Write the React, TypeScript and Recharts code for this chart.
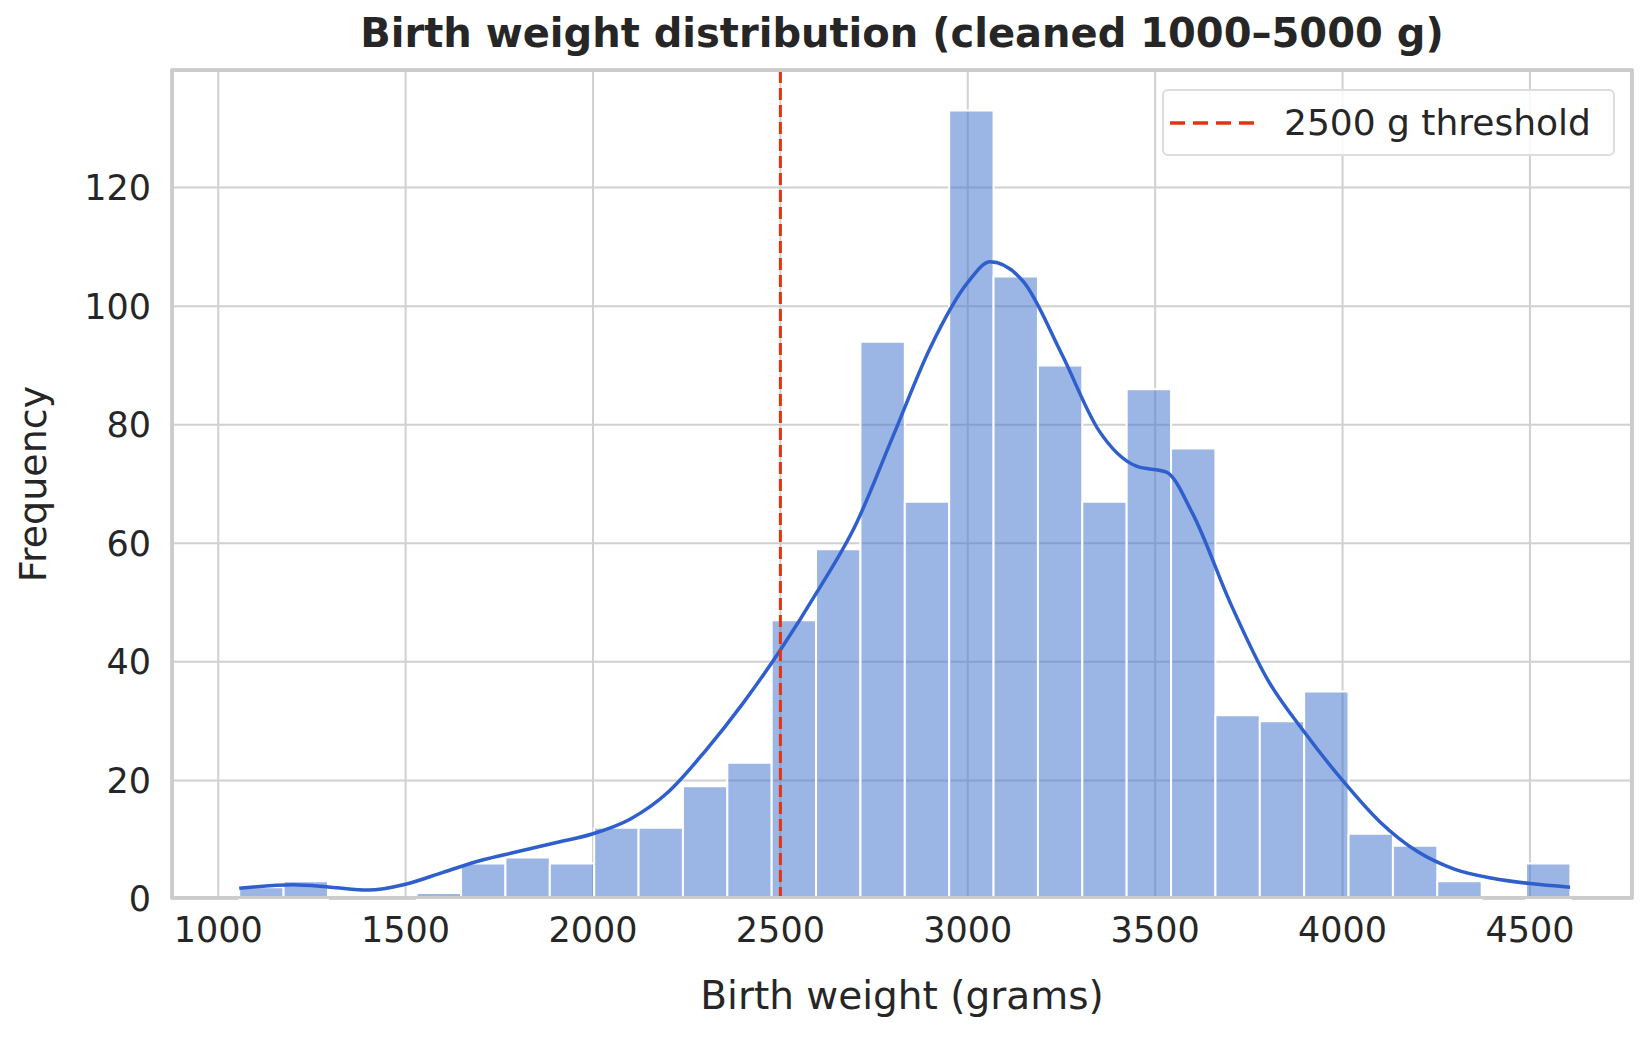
import {
  ComposedChart,
  Line,
  XAxis,
  YAxis,
  CartesianGrid,
  ReferenceArea,
  ReferenceLine,
} from "recharts";

const binStart = 1056;
const binWidth = 118.4;
const counts = [
  2, 3, 0, 0, 1, 6, 7, 6, 12, 12, 19, 23, 47, 59, 94, 67, 133, 105, 90, 67, 86,
  76, 31, 30, 35, 11, 9, 3, 0, 6,
];

const kdeX = [
  1056, 1200, 1300, 1400, 1500, 1600, 1700, 1800, 1900, 2000, 2100, 2200, 2300,
  2400, 2500, 2600, 2700, 2800, 2900, 3000, 3060, 3150, 3250, 3350, 3450, 3530,
  3600, 3700, 3800, 3900, 4000, 4100, 4200, 4300, 4400, 4500, 4607,
];
const kdeY = [
  1.8, 2.4, 2, 1.5, 2.5, 4.5, 6.5, 8, 9.5, 11, 13.5, 18, 25, 33, 42, 52, 63,
  78, 93, 104, 107.5, 104, 92, 79, 73, 72, 65, 50, 37, 28, 20, 13, 8, 5, 3.5,
  2.6, 2,
];

const xTicks = [1000, 1500, 2000, 2500, 3000, 3500, 4000, 4500];
const yTicks = [0, 20, 40, 60, 80, 100, 120];

const kdeData = kdeX.map((x, i) => ({ x, y: kdeY[i] }));

const font = "'DejaVu Sans', sans-serif";
const tickStyle = { fontSize: 35, fill: "#262626", fontFamily: font };

export default function App() {
  return (
    <div
      style={{
        position: "absolute",
        left: 0,
        top: 0,
        width: 1649,
        height: 1041,
        background: "#fff",
        fontFamily: font,
      }}
    >
      <div
        style={{
          position: "absolute",
          top: 10,
          left: 171,
          width: 1462,
          textAlign: "center",
          fontSize: 40,
          fontWeight: "bold",
          color: "#262626",
        }}
      >
        Birth weight distribution (cleaned 1000–5000 g)
      </div>
      <ComposedChart
        width={1649}
        height={1041}
        margin={{ top: 69, right: 16, left: 71, bottom: 22 }}
      >
        <CartesianGrid stroke="#d0d0d0" strokeWidth={2} />
        <XAxis
          dataKey="x"
          type="number"
          domain={[874, 4775]}
          ticks={xTicks}
          allowDataOverflow
          tick={tickStyle}
          tickLine={false}
          axisLine={false}
          tickMargin={12}
          height={120}
          label={{
            value: "Birth weight (grams)",
            position: "insideBottom",
            offset: 10,
            style: { fontSize: 39, fill: "#262626", fontFamily: font },
          }}
        />
        <YAxis
          type="number"
          domain={[0, 140]}
          ticks={yTicks}
          allowDataOverflow
          tick={tickStyle}
          tickLine={false}
          axisLine={false}
          tickMargin={14}
          width={100}
          label={{
            value: "Frequency",
            angle: -90,
            position: "insideLeft",
            offset: -38,
            style: {
              fontSize: 38,
              fill: "#262626",
              fontFamily: font,
              textAnchor: "middle",
            },
          }}
        />
        {counts.map((c, i) =>
          c > 0 ? (
            <ReferenceArea
              key={i}
              x1={binStart + i * binWidth}
              x2={binStart + (i + 1) * binWidth}
              y1={0}
              y2={c}
              fill="#4878d0"
              fillOpacity={0.55}
              stroke="#ffffff"
              strokeWidth={2}
              strokeOpacity={1}
            />
          ) : null
        )}
        <Line
          data={kdeData}
          dataKey="y"
          type="monotone"
          stroke="#2f5fcc"
          strokeWidth={3.5}
          dot={false}
          isAnimationActive={false}
        />
        <ReferenceLine
          x={2500}
          stroke="#e8320e"
          strokeWidth={3}
          strokeDasharray="12 5"
        />
      </ComposedChart>
      <div
        style={{
          position: "absolute",
          left: 171,
          top: 69,
          width: 1462,
          height: 830,
          border: "3px solid #cccccc",
          boxSizing: "border-box",
          pointerEvents: "none",
        }}
      />
      <div
        style={{
          position: "absolute",
          left: 1162,
          top: 89,
          width: 453,
          height: 67,
          border: "2px solid #dddddd",
          borderRadius: 6,
          background: "rgba(255,255,255,0.85)",
          boxSizing: "border-box",
          display: "flex",
          alignItems: "center",
        }}
      >
        <svg width={84} height={6} style={{ marginLeft: 6 }}>
          <line
            x1={0}
            y1={3}
            x2={84}
            y2={3}
            stroke="#e8320e"
            strokeWidth={3.5}
            strokeDasharray="15 8"
          />
        </svg>
        <span style={{ marginLeft: 30, fontSize: 36, color: "#262626" }}>
          2500 g threshold
        </span>
      </div>
    </div>
  );
}
